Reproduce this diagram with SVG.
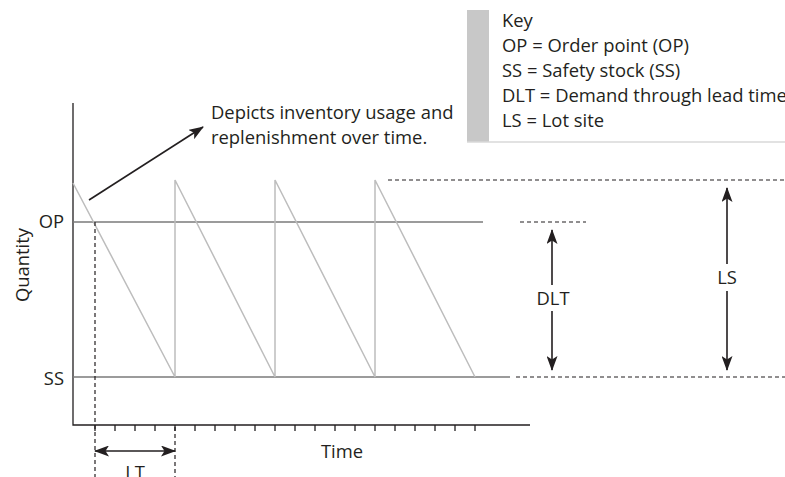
<svg xmlns="http://www.w3.org/2000/svg" width="785" height="477" viewBox="0 0 785 477">
  <style>
    text { font-family: "Open Sans", "Noto Sans", "Liberation Sans", sans-serif; fill: #231f20; }
    .lbl { font-size: 18.4px; }
    .axis { stroke: #231f20; stroke-width: 1.3; fill: none; }
    .level { stroke: #7a7a7a; stroke-width: 1.5; fill: none; }
    .saw { stroke: #bdbdbd; stroke-width: 1.5; fill: none; }
    .dash { stroke: #231f20; stroke-width: 1.2; stroke-dasharray: 4 3; fill: none; }
    .arrow { stroke: #231f20; stroke-width: 1.6; fill: none; }
  </style>
  <defs>
    <marker id="head" viewBox="0 0 15 11" refX="14" refY="5.5" markerWidth="15" markerHeight="11" markerUnits="userSpaceOnUse" orient="auto-start-reverse">
      <path d="M0,0 L15,5.5 L0,11 L3.5,5.5 Z" fill="#231f20"/>
    </marker>
  </defs>

  <rect width="785" height="477" fill="#ffffff"/>

  <!-- key panel -->
  <g id="key">
    <rect x="467" y="10" width="318" height="132" fill="#ffffff"/>
    <rect x="467" y="10" width="22" height="132" fill="#c8c8c8"/>
    <line x1="467" y1="142" x2="785" y2="142" stroke="#d8d8d8" stroke-width="1.5"/>
    <text class="lbl" x="502" y="27">Key</text>
    <text class="lbl" x="502" y="52">OP = Order point (OP)</text>
    <text class="lbl" x="502" y="77">SS = Safety stock (SS)</text>
    <text class="lbl" x="502" y="102">DLT = Demand through lead time</text>
    <text class="lbl" x="502" y="127">LS = Lot site</text>
  </g>

  <!-- axes and ticks -->
  <g id="axes">
    <path class="axis" d="M73,103 V425 H530"/>
    <path class="axis" d="M95,425v6 M115,425v6 M135,425v6 M155,425v6 M175,425v6 M195,425v6 M215,425v6 M235,425v6 M255,425v6 M275,425v6 M295,425v6 M315,425v6 M335,425v6 M355,425v6 M375,425v6 M395,425v6 M415,425v6 M435,425v6 M455,425v6 M475,425v6"/>
    <text class="lbl" x="342" y="458" text-anchor="middle">Time</text>
    <text class="lbl" transform="translate(29,265) rotate(-90)" text-anchor="middle">Quantity</text>
  </g>

  <!-- order point and safety stock levels -->
  <g id="levels">
    <line class="level" x1="73" y1="222" x2="483" y2="222"/>
    <line class="level" x1="73" y1="377" x2="510" y2="377"/>
    <text class="lbl" x="64" y="228" text-anchor="end">OP</text>
    <text class="lbl" x="64" y="385" text-anchor="end">SS</text>
  </g>

  <!-- inventory sawtooth -->
  <g id="sawtooth">
    <polyline class="saw" points="73,183 175,377 175,180 275,377 275,180 375,377 375,180 475,377"/>
  </g>

  <!-- annotation -->
  <g id="note">
    <text class="lbl" x="211" y="119">Depicts inventory usage and</text>
    <text class="lbl" x="211" y="144">replenishment over time.</text>
  </g>

  <!-- lead time -->
  <g id="lead-time">
    <text class="lbl" x="135" y="479" text-anchor="middle">LT</text>
  </g>

  <!-- DLT and LS measures -->
  <g id="dlt">
    <text class="lbl" x="553" y="305" text-anchor="middle">DLT</text>
  </g>
  <g id="ls">
    <text class="lbl" x="727" y="284" text-anchor="middle">LS</text>
  </g>

  <!-- connectors -->
  <g id="connectors">
    <line class="arrow" x1="89" y1="200" x2="203" y2="127" marker-end="url(#head)"/>
    <line class="dash" x1="95" y1="222" x2="95" y2="477"/>
    <line class="dash" x1="175" y1="427" x2="175" y2="477"/>
    <line class="arrow" x1="95" y1="451" x2="175" y2="451" marker-start="url(#head)" marker-end="url(#head)"/>
    <line class="dash" x1="388" y1="180" x2="785" y2="180"/>
    <line class="dash" x1="520" y1="222" x2="586" y2="222"/>
    <line class="dash" x1="516" y1="377" x2="785" y2="377"/>
    <path class="arrow" d="M552,230 V285 M552,311 V370" marker-start="url(#head)" marker-end="url(#head)"/>
    <path class="arrow" d="M727,188 V264 M727,291 V370" marker-start="url(#head)" marker-end="url(#head)"/>
  </g>
</svg>
